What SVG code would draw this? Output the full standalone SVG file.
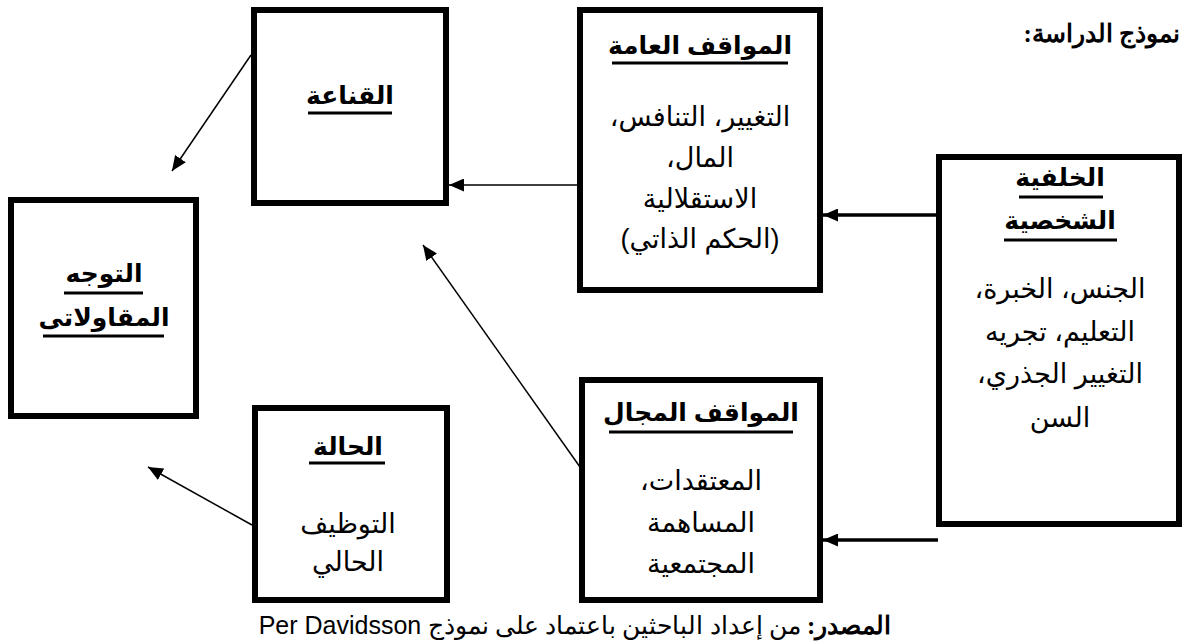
<svg xmlns="http://www.w3.org/2000/svg" width="1185" height="642" viewBox="0 0 1185 642">
<style>
.box{fill:#fff;stroke:#000;stroke-width:6}
.t{font-family:"Liberation Sans","DejaVu Sans",sans-serif;font-size:25px;font-weight:bold;text-anchor:middle;fill:#000}
.b{font-family:"Liberation Sans","DejaVu Sans",sans-serif;font-size:27px;text-anchor:middle;fill:#000}
.ul{stroke:#000;stroke-width:3}
.thin{stroke:#000;stroke-width:1.5;fill:none}
.thick{stroke:#000;stroke-width:3.5;fill:none}
.cap{font-family:"Liberation Serif","DejaVu Serif",serif;font-size:25px;fill:#000}
</style>
<defs>
<marker id="ah" viewBox="0 0 15 13" refX="15" refY="6.5" markerWidth="15" markerHeight="13" markerUnits="userSpaceOnUse" orient="auto">
<path d="M0,0 L15,6.5 L0,13 z" fill="#000"/>
</marker>
</defs>
<rect width="1185" height="642" fill="#fff"/>

<g id="title">
<text class="cap" x="1180" y="42" font-size="22" text-anchor="start" font-weight="bold" direction="rtl" unicode-bidi="embed">نموذج الدراسة:</text>
</g>

<g id="qanaa">
<rect class="box" x="254" y="10" width="192" height="193"/>
<text class="t" x="350" y="104">القناعة</text>
<line class="ul" x1="308" y1="113" x2="392" y2="113"/>
</g>

<g id="mawaqif-amma">
<rect class="box" x="580" y="10" width="240" height="280"/>
<text class="t" x="700" y="54">المواقف العامة</text>
<line class="ul" x1="612" y1="63" x2="788" y2="63"/>
<text class="b" x="700" y="126" direction="rtl">التغيير، التنافس،</text>
<text class="b" x="700" y="167" direction="rtl">المال،</text>
<text class="b" x="700" y="208" direction="rtl">الاستقلالية</text>
<text class="b" x="700" y="248" direction="rtl">(الحكم الذاتي)</text>
</g>

<g id="khalfiya">
<rect class="box" x="939" y="157" width="240" height="367"/>
<text class="t" x="1060" y="186">الخلفية</text>
<line class="ul" x1="1019" y1="197" x2="1103" y2="197"/>
<text class="t" x="1060" y="229">الشخصية</text>
<line class="ul" x1="1004" y1="240" x2="1117" y2="240"/>
<text class="b" x="1060" y="298" direction="rtl">الجنس، الخبرة،</text>
<text class="b" x="1060" y="341" direction="rtl">التعليم، تجريه</text>
<text class="b" x="1060" y="383" direction="rtl">التغيير الجذري،</text>
<text class="b" x="1060" y="427" direction="rtl">السن</text>
</g>

<g id="tawajjuh">
<rect class="box" x="11" y="200" width="185" height="216"/>
<text class="t" x="104" y="282">التوجه</text>
<line class="ul" x1="64" y1="293" x2="143" y2="293"/>
<text class="t" x="104" y="326">المقاولاتى</text>
<line class="ul" x1="43" y1="336" x2="164" y2="336"/>
</g>

<g id="hala">
<rect class="box" x="255" y="408" width="192" height="192"/>
<text class="t" x="348" y="455">الحالة</text>
<line class="ul" x1="309" y1="463" x2="385" y2="463"/>
<text class="b" x="348" y="533" direction="rtl">التوظيف</text>
<text class="b" x="348" y="571" direction="rtl">الحالي</text>
</g>

<g id="mawaqif-majal">
<rect class="box" x="582" y="380" width="238" height="220"/>
<text class="t" x="701" y="421">المواقف المجال</text>
<line class="ul" x1="609" y1="432" x2="793" y2="432"/>
<text class="b" x="701" y="490" direction="rtl">المعتقدات،</text>
<text class="b" x="701" y="532" direction="rtl">المساهمة</text>
<text class="b" x="701" y="573" direction="rtl">المجتمعية</text>
</g>

<g id="connectors">
<line class="thin" x1="577" y1="185" x2="449" y2="185" marker-end="url(#ah)"/>
<line class="thick" x1="938" y1="215" x2="823" y2="215" marker-end="url(#ah)"/>
<line class="thick" x1="938" y1="540" x2="823" y2="540" marker-end="url(#ah)"/>
<line class="thin" x1="580" y1="467" x2="423" y2="245" marker-end="url(#ah)"/>
<line class="thin" x1="251" y1="55" x2="172" y2="171" marker-end="url(#ah)"/>
<line class="thin" x1="252" y1="525" x2="148" y2="467" marker-end="url(#ah)"/>
</g>

<g id="caption">
<text class="cap" x="575" y="634" text-anchor="middle" direction="rtl" unicode-bidi="embed"><tspan font-weight="bold">المصدر:</tspan> من إعداد الباحثين باعتماد على نموذج <tspan font-family="'Liberation Sans', sans-serif">Per Davidsson</tspan></text>
</g>
</svg>
